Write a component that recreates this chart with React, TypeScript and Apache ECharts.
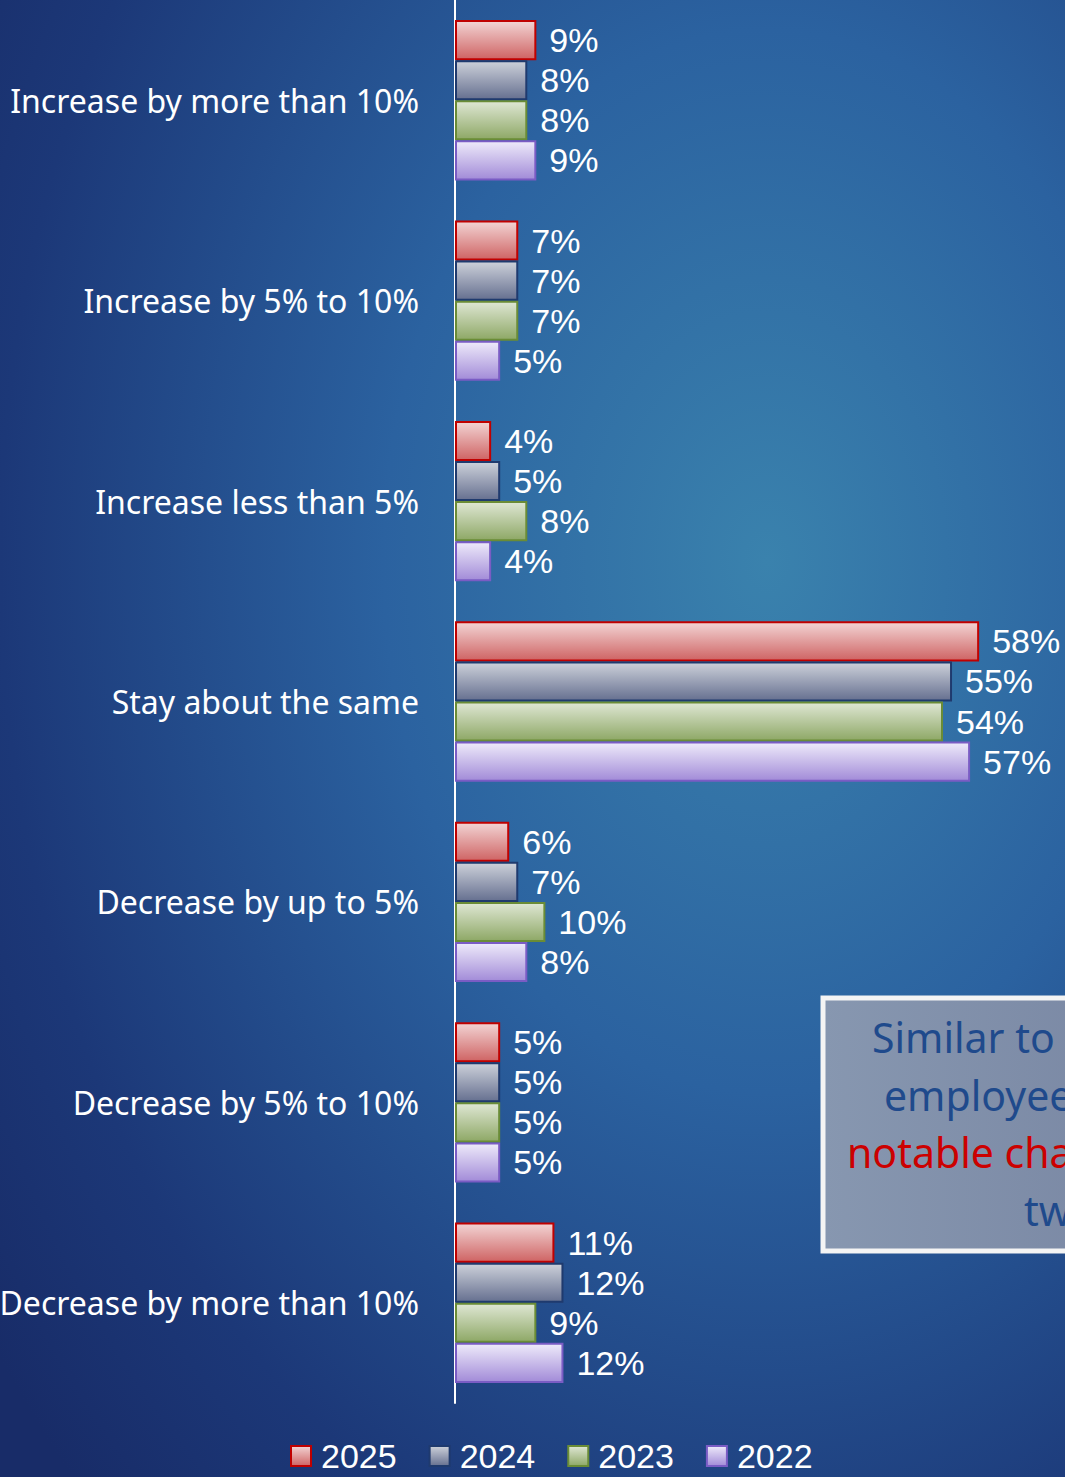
import React, { useEffect, useRef } from "react";
import * as echarts from "echarts";

const categories = [
  "Increase by more than 10%",
  "Increase by 5% to 10%",
  "Increase less than 5%",
  "Stay about the same",
  "Decrease by up to 5%",
  "Decrease by 5% to 10%",
  "Decrease by more than 10%",
];
const years = ["2025", "2024", "2023", "2022"];
const v2025 = [9, 7, 4, 58, 6, 5, 11];
const v2024 = [8, 7, 5, 55, 7, 5, 12];
const v2023 = [8, 7, 8, 54, 10, 5, 9];
const v2022 = [9, 5, 4, 57, 8, 5, 12];
const seriesValues = [v2025, v2024, v2023, v2022];

const styles = [
  { top: "#f2d4d4", bottom: "#cf6464", border: "#c00000" },
  { top: "#cdd1da", bottom: "#667090", border: "#1f3a6e" },
  { top: "#dfe7d4", bottom: "#8ea866", border: "#6a8c36" },
  { top: "#eeeafa", bottom: "#a28bd8", border: "#7a5cc4" },
];

const boxLines = [
  { text: "Similar to", color: "#1f4a8c", x: 872, y: 1037 },
  { text: "employee", color: "#1f4a8c", x: 884, y: 1095 },
  { text: "notable cha", color: "#cc0000", x: 847, y: 1152 },
  { text: "tw", color: "#1f4a8c", x: 1024, y: 1210 },
];

export default function App() {
  const ref = useRef<HTMLDivElement>(null);
  useEffect(() => {
    document.body.style.margin = "0";
    const chart = echarts.init(ref.current!, null, { renderer: "svg" });
    const font = "'Noto Sans', sans-serif";
    const numFont = "'Liberation Sans', Arial, sans-serif";
    chart.setOption({
      animation: false,
      backgroundColor: {
        type: "radial",
        x: 0.72,
        y: 0.38,
        r: 0.9,
        colorStops: [
          { offset: 0, color: "#3a82ad" },
          { offset: 0.4, color: "#2b62a0" },
          { offset: 0.8, color: "#1c3878" },
          { offset: 1, color: "#182c68" },
        ],
      },
      textStyle: { fontFamily: font },
      grid: {
        left: 455,
        right: 0,
        top: 0,
        bottom: 74,
        containLabel: false,
        outerBoundsMode: "none",
      },
      xAxis: {
        type: "value",
        min: 0,
        max: 67.5,
        show: false,
      },
      yAxis: {
        type: "category",
        inverse: true,
        data: categories,
        axisLine: { show: true, lineStyle: { color: "#ffffff", width: 2 } },
        axisTick: { show: false },
        splitLine: { show: false },
        axisLabel: {
          color: "#ffffff",
          fontSize: 32,
          fontFamily: font,
          margin: 36,
        },
      },
      legend: {
        data: years,
        top: 1439,
        left: 290,
        padding: 0,
        itemWidth: 20,
        itemHeight: 20,
        itemGap: 32,
        icon: "rect",
        textStyle: {
          color: "#ffffff",
          fontSize: 34,
          lineHeight: 34,
          fontFamily: numFont,
          padding: [0, 0, 0, 5],
        },
      },
      series: years.map((y, i) => ({
        name: y,
        type: "bar",
        data: seriesValues[i],
        barCategoryGap: "20%",
        barGap: "0%",
        itemStyle: {
          color: {
            type: "linear",
            x: 0,
            y: 0,
            x2: 0,
            y2: 1,
            colorStops: [
              { offset: 0, color: styles[i].top },
              { offset: 1, color: styles[i].bottom },
            ],
          },
          borderColor: styles[i].border,
          borderWidth: 2,
        },
        label: {
          show: true,
          position: "right",
          distance: 13,
          color: "#ffffff",
          fontSize: 34,
          fontFamily: numFont,
          formatter: "{c}%",
        },
      })),
      graphic: [
        {
          type: "rect",
          shape: { x: 823, y: 998, width: 300, height: 253 },
          style: {
            fill: {
              type: "linear",
              x: 0,
              y: 0,
              x2: 1,
              y2: 0,
              colorStops: [
                { offset: 0, color: "#8797b0" },
                { offset: 1, color: "#7a88a4" },
              ],
            },
            stroke: "#f4f4f4",
            lineWidth: 5,
          },
          z: 10,
        },
        ...boxLines.map((l) => ({
          type: "text",
          x: l.x,
          y: l.y,
          z: 11,
          style: {
            text: l.text,
            fill: l.color,
            fontSize: 41,
            fontFamily: "'Noto Sans', sans-serif",
            textAlign: "left",
            textVerticalAlign: "middle",
          },
        })),
      ],
    });
    return () => chart.dispose();
  }, []);
  return (
    <div
      ref={ref}
      style={{ position: "absolute", left: 0, top: 0, width: 1065, height: 1477 }}
    />
  );
}
